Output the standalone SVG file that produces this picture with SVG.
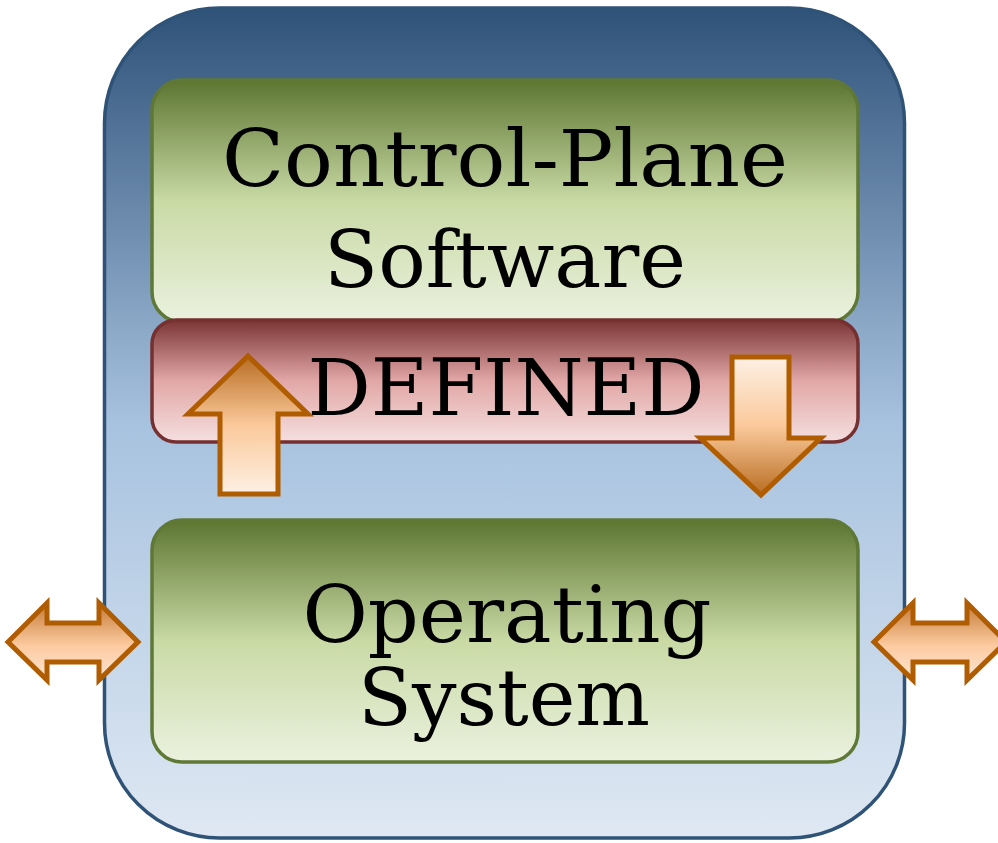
<svg xmlns="http://www.w3.org/2000/svg" width="998" height="843" viewBox="0 0 998 843">
  <defs>
    <linearGradient id="gOuter" x1="0" y1="0" x2="0" y2="1">
      <stop offset="0" stop-color="#2f5279"/>
      <stop offset="0.5" stop-color="#a7c2df"/>
      <stop offset="1" stop-color="#dfe8f3"/>
    </linearGradient>
    <linearGradient id="gGreen" x1="0" y1="0" x2="0" y2="1">
      <stop offset="0" stop-color="#5c7530"/>
      <stop offset="0.5" stop-color="#c9daa5"/>
      <stop offset="1" stop-color="#ebf1df"/>
    </linearGradient>
    <linearGradient id="gRed" x1="0" y1="0" x2="0" y2="1">
      <stop offset="0" stop-color="#7a3434"/>
      <stop offset="0.5" stop-color="#e2a7a7"/>
      <stop offset="1" stop-color="#f5dfdf"/>
    </linearGradient>
    <linearGradient id="gArrowUp" x1="0" y1="0" x2="0" y2="1">
      <stop offset="0" stop-color="#b86d22"/>
      <stop offset="0.5" stop-color="#fbc99b"/>
      <stop offset="1" stop-color="#fdf0e4"/>
    </linearGradient>
    <linearGradient id="gArrowDown" x1="0" y1="0" x2="0" y2="1">
      <stop offset="0" stop-color="#fdf0e4"/>
      <stop offset="0.5" stop-color="#fbc99b"/>
      <stop offset="1" stop-color="#b86d22"/>
    </linearGradient>
    <linearGradient id="gArrowSide" x1="0" y1="0" x2="0" y2="1">
      <stop offset="0" stop-color="#c47a36"/>
      <stop offset="0.55" stop-color="#fcca9f"/>
      <stop offset="1" stop-color="#fde6d6"/>
    </linearGradient>
  </defs>
  <style>
    .outer { fill: url(#gOuter); stroke: #2f5277; stroke-width: 3.5; }
    .green { fill: url(#gGreen); stroke: #5f7836; stroke-width: 3.5; }
    .red { fill: url(#gRed); stroke: #763030; stroke-width: 3.5; }
    .arrow { stroke: #b05c00; stroke-width: 5; stroke-linejoin: miter; }
    .label { font-family: "DejaVu Serif", "Liberation Serif", serif; font-size: 79px; fill: #000; text-anchor: middle; }
  </style>

  <g id="device">
    <rect class="outer" x="104.5" y="8" width="800" height="830" rx="115" ry="115"/>
  </g>

  <g id="control-plane">
    <rect class="green" x="152" y="80" width="706" height="242" rx="30" ry="30"/>
    <text class="label" x="505" y="186" textLength="566" lengthAdjust="spacingAndGlyphs">Control-Plane</text>
    <text class="label" x="505" y="287">Software</text>
  </g>

  <g id="defined">
    <rect class="red" x="152" y="320" width="706" height="122" rx="24" ry="24"/>
    <text class="label" x="506" y="415">DEFINED</text>
  </g>

  <g id="operating-system">
    <rect class="green" x="152" y="520" width="706" height="242" rx="30" ry="30"/>
    <text class="label" x="507" y="642" textLength="409" lengthAdjust="spacingAndGlyphs">Operating</text>
    <text class="label" x="504" y="725" textLength="292" lengthAdjust="spacingAndGlyphs">System</text>
  </g>

  <g id="connectors">
    <polygon class="arrow" fill="url(#gArrowUp)" points="248,356 308,414 278,414 278,494 220,494 220,414 188,414"/>
    <polygon class="arrow" fill="url(#gArrowDown)" points="732,357 789,357 789,438 821,438 761,495 700,438 732,438"/>
    <polygon class="arrow" fill="url(#gArrowSide)" points="8,642 47,603 47,623 99,623 99,603 138,642 99,680 99,662 47,662 47,680"/>
    <polygon class="arrow" fill="url(#gArrowSide)" points="874,642 913,603 913,623 967,623 967,603 1006,642 967,680 967,662 913,662 913,680"/>
  </g>
</svg>
